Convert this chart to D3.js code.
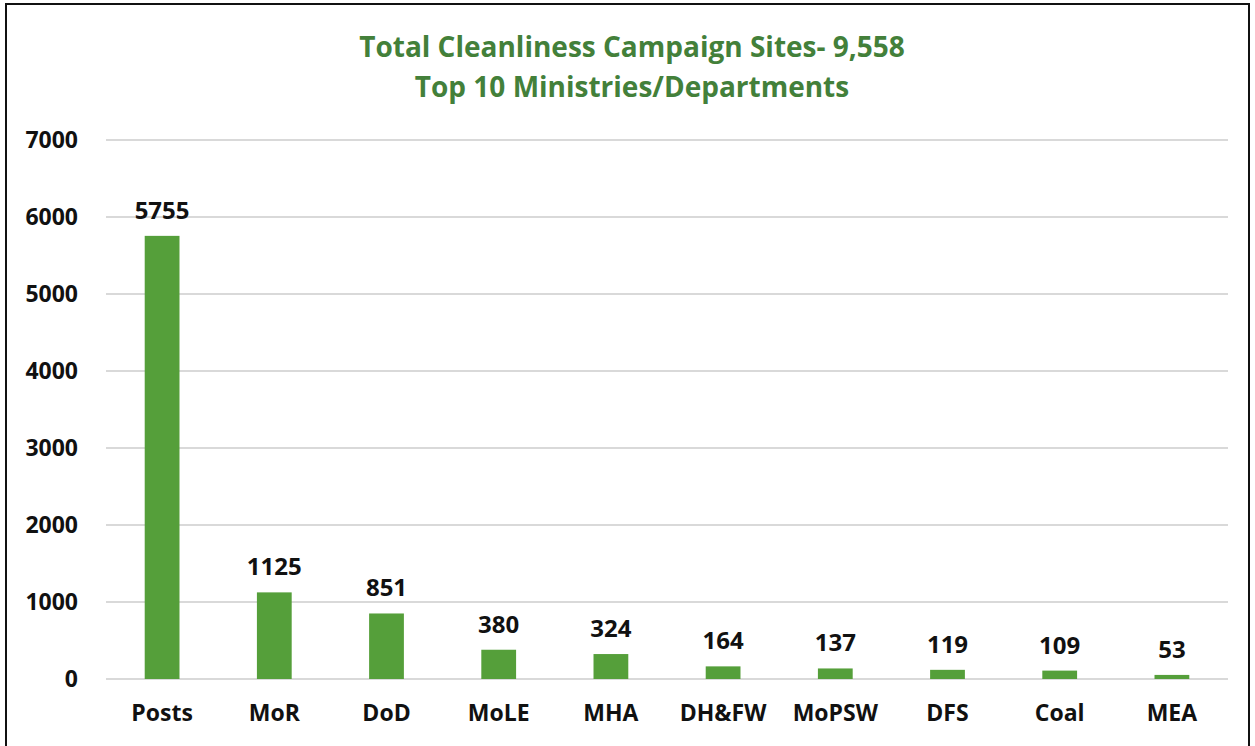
<!DOCTYPE html>
<html>
<head>
<meta charset="utf-8">
<script src="https://cdn.jsdelivr.net/npm/d3@7"></script>
<style>
body { margin: 0; background: #fff; }
text { font-family: "Open Sans", "Noto Sans", sans-serif; font-weight: 700; }
</style>
</head>
<body>
<svg id="chart"></svg>
<script>
var width = 1255; // svg size
var height = 746;

// data
var ministries = ["Posts", "MoR", "DoD", "MoLE", "MHA", "DH&FW", "MoPSW", "DFS", "Coal", "MEA"];
var sites = [5755, 1125, 851, 380, 324, 164, 137, 119, 109, 53];
var yTicks = [0, 1000, 2000, 3000, 4000, 5000, 6000, 7000];
var titleLines = ["Total Cleanliness Campaign Sites- 9,558", "Top 10 Ministries/Departments"];

var green = "#559f3a";
var titleGreen = "#43803a";

var svg = d3.select("#chart")
	.attr("width", width)
	.attr("height", height)
	.style("display", "block");

// outer frame
svg.append("rect")
	.attr("x", 6).attr("y", 4)
	.attr("width", 1243).attr("height", 760)
	.attr("fill", "white")
	.attr("stroke", "#111")
	.attr("stroke-width", 2);

// plot area (note: "top" is taken by window.top)
var plotLeft = 106, plotRight = 1228, plotTop = 140, plotBottom = 679;

var x = d3.scaleBand()
	.domain(ministries)
	.range([plotLeft, plotRight])
	.paddingInner(0.69)
	.paddingOuter(0.345);

var y = d3.scaleLinear()
	.domain([0, 7000])
	.range([plotBottom, plotTop]);

// gridlines
svg.append("g")
	.selectAll("line")
	.data(yTicks)
	.enter().append("line")
	.attr("x1", plotLeft).attr("x2", plotRight)
	.attr("y1", (d) => y(d)).attr("y2", (d) => y(d))
	.attr("stroke", "#d9d9d9")
	.attr("stroke-width", 2);

// y axis labels
var yAx = svg.append("g")
	.attr("transform", "translate(78,0)")
	.call(d3.axisLeft(y).tickValues(yTicks).tickSize(0).tickPadding(0).tickFormat(d3.format("d")));
yAx.select(".domain").remove();
yAx.selectAll("text")
	.attr("font-size", 23)
	.attr("fill", "#111")
	.style("font-family", "'Open Sans', sans-serif")
	.style("font-weight", 700);

// x axis labels
var xAx = svg.append("g")
	.attr("transform", "translate(0," + plotBottom + ")")
	.call(d3.axisBottom(x).tickSize(0).tickPadding(26));
xAx.select(".domain").remove();
xAx.selectAll("text")
	.attr("font-size", 23)
	.attr("fill", "#111")
	.style("font-family", "'Open Sans', sans-serif")
	.style("font-weight", 700);

// bars
svg.selectAll("rect.bar")
	.data(sites)
	.enter().append("rect")
	.attr("class", "bar")
	.attr("x", (d, i) => x(ministries[i]))
	.attr("width", x.bandwidth())
	.attr("y", (d) => y(d))
	.attr("height", (d) => plotBottom - y(d))
	.attr("fill", green);

// value labels
svg.selectAll("text.val")
	.data(sites)
	.enter().append("text")
	.attr("class", "val")
	.attr("x", (d, i) => x(ministries[i]) + x.bandwidth() / 2)
	.attr("y", (d) => y(d) - 17)
	.attr("text-anchor", "middle")
	.attr("font-size", 24)
	.attr("fill", "#111")
	.text((d) => d);

// title
svg.selectAll("text.title")
	.data(titleLines)
	.enter().append("text")
	.attr("class", "title")
	.attr("x", 632)
	.attr("y", (d, i) => 57 + i * 40)
	.attr("text-anchor", "middle")
	.attr("font-size", 28)
	.attr("fill", titleGreen)
	.text((d) => d);
</script>
</body>
</html>
